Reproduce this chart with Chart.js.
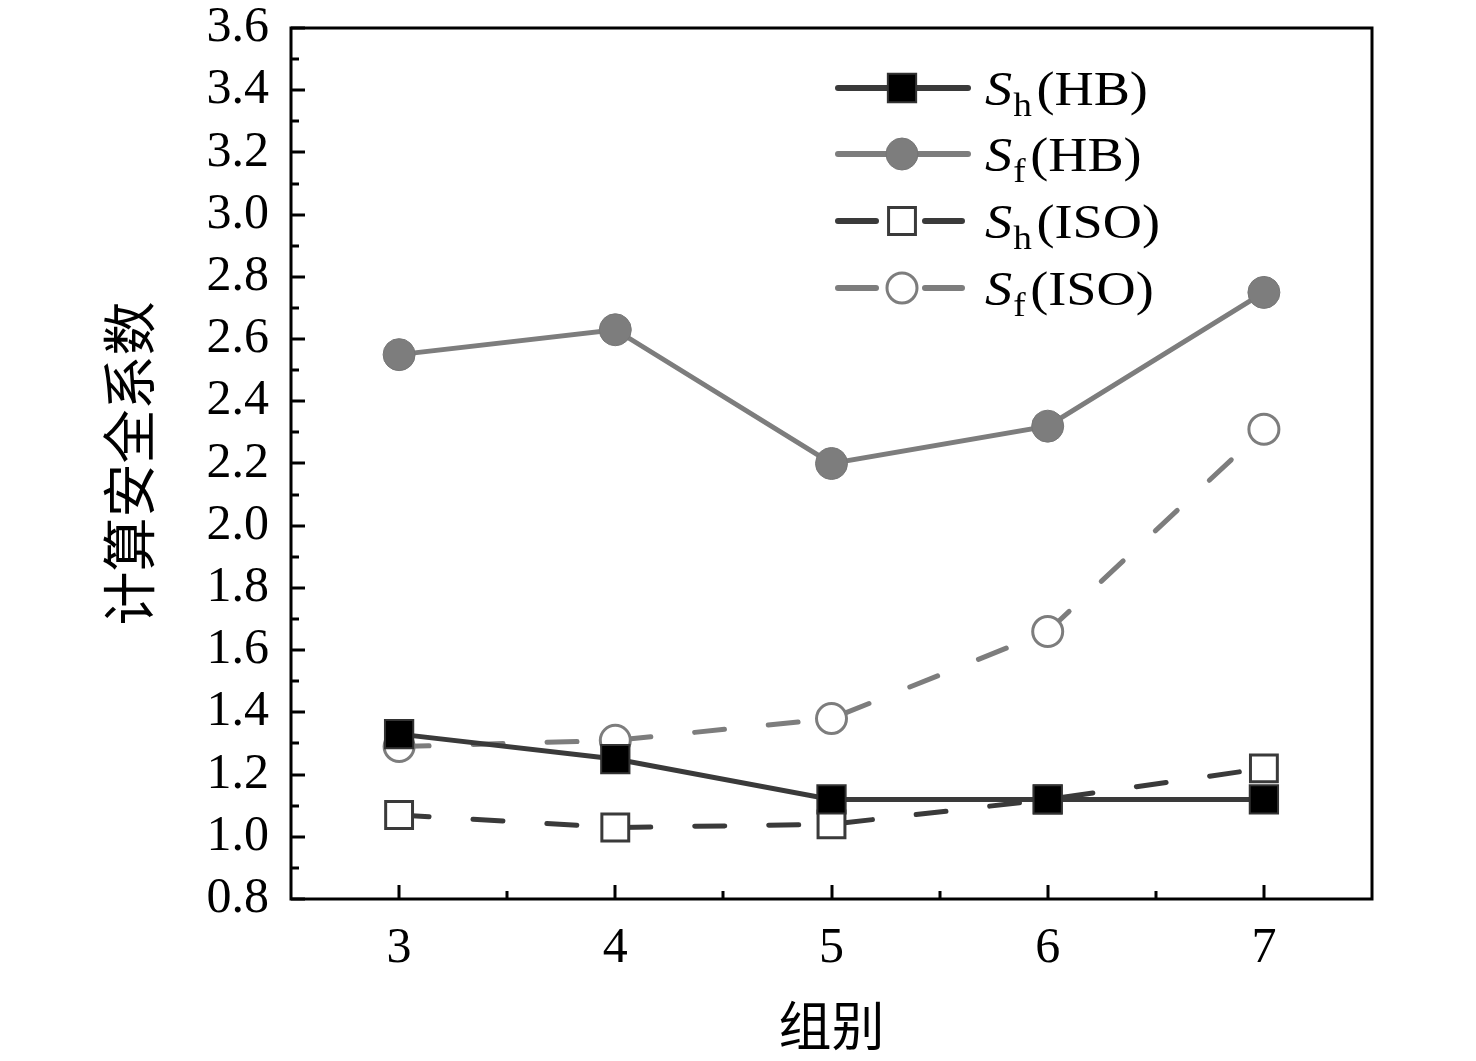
<!DOCTYPE html>
<html>
<head>
<meta charset="utf-8">
<script src="https://cdn.jsdelivr.net/npm/chart.js@4"></script>
<style>
  html, body { margin: 0; padding: 0; background: #fff; }
  #wrap { width: 1476px; height: 1061px; }
</style>
</head>
<body>
<div id="wrap"><canvas id="chart" width="1476" height="1061"></canvas></div>
<script>
// data
const groups = [3, 4, 5, 6, 7];
const shHB = [1.33, 1.25, 1.12, 1.12, 1.12];
const sfHB = [2.55, 2.63, 2.20, 2.32, 2.75];
const shISO = [1.07, 1.03, 1.04, 1.12, 1.22];
const sfISO = [1.29, 1.31, 1.38, 1.66, 2.31];
const yTicks = [0.8, 1.0, 1.2, 1.4, 1.6, 1.8, 2.0, 2.2, 2.4, 2.6, 2.8, 3.0, 3.2, 3.4, 3.6];
const legendNames = [
  { s: "S", sub: "h", rest: "(HB)" },
  { s: "S", sub: "f", rest: "(HB)" },
  { s: "S", sub: "h", rest: "(ISO)" },
  { s: "S", sub: "f", rest: "(ISO)" },
];

const serif = "'Liberation Serif', 'Times New Roman', Tinos, serif";
const cjk = "'Noto Sans CJK SC', sans-serif";

const toPoints = (arr) => arr.map((v, i) => ({ x: groups[i], y: v }));

// frame, inner ticks and legend
const decorations = {
  id: "decorations",
  afterDraw(chart) {
    const ctx = chart.ctx;
    const area = chart.chartArea;
    const xs = chart.scales.x;
    const ys = chart.scales.y;
    ctx.save();
    ctx.strokeStyle = "#000";
    ctx.lineWidth = 3;
    ctx.strokeRect(area.left, area.top, area.right - area.left, area.bottom - area.top);

    // y ticks (inside)
    for (let k = 0; k <= 28; k++) {
      const y = Math.round(ys.getPixelForValue(0.8 + k * 0.1));
      ctx.beginPath();
      ctx.moveTo(area.left, y);
      ctx.lineTo(area.left + (k % 2 === 0 ? 14 : 8), y);
      ctx.stroke();
    }
    // x ticks (inside)
    for (let k = 0; k <= 8; k++) {
      const x = Math.round(xs.getPixelForValue(3 + k * 0.5));
      ctx.beginPath();
      ctx.moveTo(x, area.bottom);
      ctx.lineTo(x, area.bottom - (k % 2 === 0 ? 14 : 8));
      ctx.stroke();
    }

    // legend
    const rows = [88, 154, 221, 288];
    chart.data.datasets.forEach((ds, i) => {
      const y = rows[i];
      ctx.save();
      ctx.strokeStyle = ds.borderColor;
      ctx.lineWidth = 6;
      ctx.lineCap = "round";
      ctx.beginPath();
      if (ds.borderDash && ds.borderDash.length) {
        ctx.moveTo(838, y); ctx.lineTo(876, y);
        ctx.moveTo(925, y); ctx.lineTo(962, y);
      } else {
        ctx.moveTo(838, y); ctx.lineTo(968, y);
      }
      ctx.stroke();
      ctx.fillStyle = ds.pointBackgroundColor;
      ctx.strokeStyle = ds.pointBorderColor;
      ctx.lineWidth = ds.pointBorderWidth;
      Chart.helpers.drawPoint(ctx, {
        pointStyle: ds.pointStyle,
        radius: ds.pointRadius,
        rotation: 0,
        borderWidth: ds.pointBorderWidth,
      }, 902, y);
      ctx.restore();

      // label text is a little wider than plain Times in the figure
      const n = legendNames[i];
      const base = y + 17;
      ctx.save();
      ctx.translate(985, 0);
      ctx.scale(1.13, 1);
      ctx.fillStyle = "#000";
      ctx.textBaseline = "alphabetic";
      ctx.textAlign = "left";
      ctx.font = "italic 48px " + serif;
      let x = 0;
      ctx.fillText(n.s, x, base);
      x += ctx.measureText(n.s).width + 1;
      ctx.font = "33px " + serif;
      ctx.fillText(n.sub, x, base + 11);
      x += ctx.measureText(n.sub).width + 4;
      ctx.font = "48px " + serif;
      ctx.fillText(n.rest, x, base);
      ctx.restore();
    });
    ctx.restore();
  },
};

function makeSet(data, line, dash, style, radius, fill, edge, edgeW) {
  return {
    data: toPoints(data),
    borderColor: line,
    borderWidth: 5,
    borderDash: dash,
    borderCapStyle: "round",
    pointStyle: style,
    pointRadius: radius,
    pointHoverRadius: radius,
    pointBackgroundColor: fill,
    pointBorderColor: edge,
    pointBorderWidth: edgeW,
    tension: 0,
  };
}

function draw() {
  new Chart(document.getElementById("chart"), {
    type: "line",
    data: {
      datasets: [
        makeSet(shHB, "#3a3a3a", [], "rect", 20, "#000", "#333", 2),
        makeSet(sfHB, "#7d7d7d", [], "circle", 16, "#7d7d7d", "#767676", 1),
        makeSet(shISO, "#3a3a3a", [30, 44], "rect", 19, "#fff", "#3a3a3a", 3),
        makeSet(sfISO, "#7d7d7d", [30, 44], "circle", 15, "#fff", "#7d7d7d", 3),
      ],
    },
    options: {
      responsive: false,
      animation: false,
      events: [],
      layout: { padding: { left: 0, top: 28, right: 104, bottom: 0 } },
      plugins: { legend: { display: false }, tooltip: { enabled: false } },
      scales: {
        x: {
          type: "linear",
          min: 2.5,
          max: 7.5,
          afterBuildTicks: (s) => { s.ticks = groups.map((v) => ({ value: v })); },
          afterFit: (s) => { s.height = 162; s.paddingLeft = 0; s.paddingRight = 0; },
          grid: { display: false, drawTicks: false },
          border: { display: false },
          ticks: { color: "#000", font: { family: serif, size: 50 }, padding: 20, maxRotation: 0, autoSkip: false },
          title: { display: true, text: "组别", color: "#000", font: { family: cjk, size: 53 }, padding: { top: 0, bottom: 3 } },
        },
        y: {
          min: 0.8,
          max: 3.6,
          afterBuildTicks: (s) => { s.ticks = yTicks.map((v) => ({ value: v })); },
          afterFit: (s) => { s.width = 291; s.paddingTop = 0; s.paddingBottom = 0; },
          grid: { display: false, drawTicks: false },
          border: { display: false },
          ticks: { color: "#000", font: { family: serif, size: 50 }, padding: 22, autoSkip: false, callback: (v) => v.toFixed(1) },
          title: { display: true, text: "计算安全系数", color: "#000", font: { family: cjk, size: 54 }, padding: { top: 97, bottom: 0 } },
        },
      },
    },
    plugins: [decorations],
  });
}

Promise.all([
  document.fonts.load("50px 'Liberation Serif'"),
  document.fonts.load("italic 48px 'Liberation Serif'"),
  document.fonts.load("54px 'Noto Sans CJK SC'", "组别计算安全系数"),
]).then(draw, draw);
</script>
</body>
</html>
